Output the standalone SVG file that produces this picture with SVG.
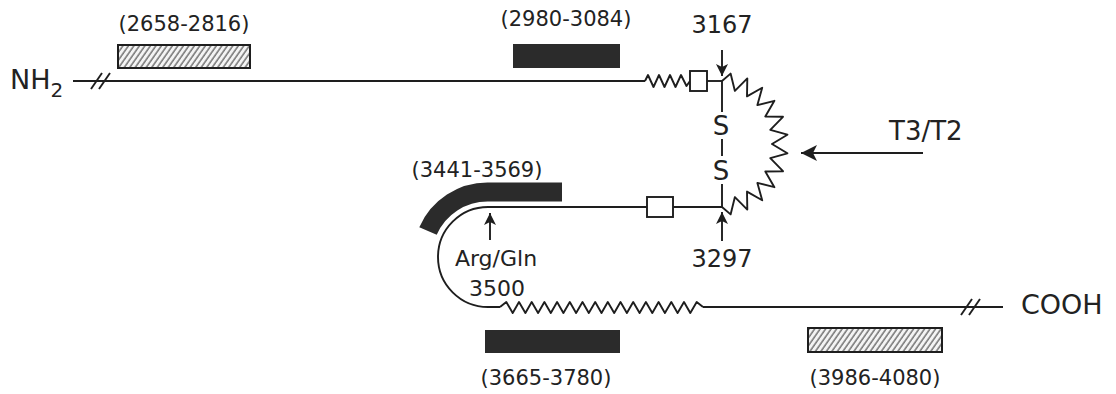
<svg xmlns="http://www.w3.org/2000/svg" width="1116" height="394" viewBox="0 0 1116 394">
<style>
.ln{fill:none;stroke:#1e1e1e;stroke-width:1.9;stroke-linejoin:round}
.t{font-family:"DejaVu Sans",sans-serif;fill:#222}
.lbl{font-size:21px;text-anchor:middle}
.num{font-size:24px;text-anchor:middle}
.blk{fill:#2b2b2b}
.hat{fill:url(#hatch);stroke:#1e1e1e;stroke-width:2}
.sq{fill:#fff;stroke:#1e1e1e;stroke-width:1.9}
</style>
<defs>
<pattern id="hatch" patternUnits="userSpaceOnUse" width="4.5" height="10" patternTransform="rotate(35)">
<rect width="4.5" height="10" fill="#f4f4f4"/>
<line x1="1" y1="0" x2="1" y2="10" stroke="#6a6a6a" stroke-width="1.4"/>
</pattern>
<marker id="ah" markerUnits="userSpaceOnUse" markerWidth="14" markerHeight="14" refX="12" refY="6" orient="auto">
<path d="M0,0 L12,6 L0,12 L3,6 Z" fill="#1e1e1e"/>
</marker>
<marker id="ahb" markerUnits="userSpaceOnUse" markerWidth="18" markerHeight="18" refX="16" refY="8" orient="auto">
<path d="M0,0 L16,8 L0,16 L4,8 Z" fill="#1e1e1e"/>
</marker>
</defs>
<rect width="1116" height="394" fill="#fff"/>

<g id="backbone">
<line class="ln" x1="73" y1="81" x2="645" y2="81"/>
<line class="ln" x1="91" y1="89" x2="102" y2="73"/>
<line class="ln" x1="99" y1="89" x2="110" y2="73"/>
<polyline class="ln" points="645,81 648,75 653.5,87 659,75 664.5,87 670,75 675.5,87 681,75 686.5,86 690,81"/>
<line class="ln" x1="707" y1="81" x2="722" y2="81"/>
<polyline class="ln" points="722,81 730.6,73.6 734.9,90.9 747.3,78.4 747,96.4 762.2,87.7 757.4,105.1 774.4,100.8 765.3,116.5 783,116.8 770.3,129.8 787.4,134.7 772,144 787.4,153.3 770.3,158.2 783,171.2 765.3,171.5 774.4,187.2 757.4,182.9 762.2,200.3 747,191.6 747.3,209.6 734.9,197.1 730.6,214.4 722,207"/>
<line class="ln" x1="722" y1="81" x2="722" y2="112"/>
<line class="ln" x1="722" y1="139" x2="722" y2="156"/>
<line class="ln" x1="722" y1="184" x2="722" y2="207"/>
<text class="t" x="721" y="135" font-size="26" text-anchor="middle">S</text>
<text class="t" x="721" y="180" font-size="26" text-anchor="middle">S</text>
<path class="ln" d="M722,207 L673,207 M647,207 L488,207 A50 50 0 0 0 488,307 L500,307"/>
<polyline class="ln" points="500,307 506.3,302 512.7,313 519,302 525.4,313 531.7,302 538.1,313 544.4,302 550.8,313 557.1,302 563.4,313 569.8,302 576.1,313 582.5,302 588.8,313 595.2,302 601.5,313 607.8,302 614.2,313 620.5,302 626.9,313 633.2,302 639.6,313 645.9,302 652.3,313 658.6,302 664.9,313 671.3,302 677.6,313 684,302 690.3,313 696.7,302 703,307"/>
<line class="ln" x1="703" y1="307" x2="1003" y2="307"/>
<line class="ln" x1="961" y1="315" x2="972" y2="299"/>
<line class="ln" x1="969" y1="315" x2="980" y2="299"/>
<rect class="sq" x="690" y="71" width="17" height="20"/>
<rect class="sq" x="647" y="197" width="26" height="20"/>
</g>

<g id="nh2">
<text class="t" x="10" y="89" font-size="27">NH<tspan font-size="20" dy="8">2</tspan></text>
</g>
<g id="cooh">
<text class="t" x="1021" y="314" font-size="27">COOH</text>
</g>

<g id="region-2658-2816">
<rect class="hat" x="118" y="45" width="132" height="23"/>
<text class="t lbl" x="184" y="31">(2658-2816)</text>
</g>
<g id="region-2980-3084">
<rect class="blk" x="513" y="44" width="107" height="24"/>
<text class="t lbl" x="566" y="26">(2980-3084)</text>
</g>
<g id="region-3441-3569">
<path d="M562,192 L488,192 A65 65 0 0 0 428,231" fill="none" stroke="#2b2b2b" stroke-width="19"/>
<text class="t lbl" x="477" y="177">(3441-3569)</text>
</g>
<g id="region-3665-3780">
<rect class="blk" x="485" y="330" width="135" height="23"/>
<text class="t lbl" x="546" y="385">(3665-3780)</text>
</g>
<g id="region-3986-4080">
<rect class="hat" x="808" y="328" width="134" height="24"/>
<text class="t lbl" x="875" y="385">(3986-4080)</text>
</g>

<g id="site-3167">
<text class="t num" x="722" y="33">3167</text>
</g>
<g id="site-3297">
<text class="t num" x="722" y="267">3297</text>
</g>
<g id="site-3500">
<text class="t" x="496" y="266" font-size="22" text-anchor="middle">Arg/Gln</text>
<text class="t" x="497" y="296" font-size="22" text-anchor="middle">3500</text>
</g>
<g id="t3t2">
<text class="t" x="889" y="140" font-size="26">T3/T2</text>
</g>

<g id="connectors">
<line class="ln" x1="722" y1="50" x2="722" y2="76" marker-end="url(#ah)"/>
<line class="ln" x1="722" y1="241" x2="722" y2="212" marker-end="url(#ah)"/>
<line class="ln" x1="490" y1="240" x2="490" y2="213" marker-end="url(#ah)"/>
<line class="ln" x1="923" y1="153" x2="801" y2="153" marker-end="url(#ahb)"/>
</g>
</svg>
